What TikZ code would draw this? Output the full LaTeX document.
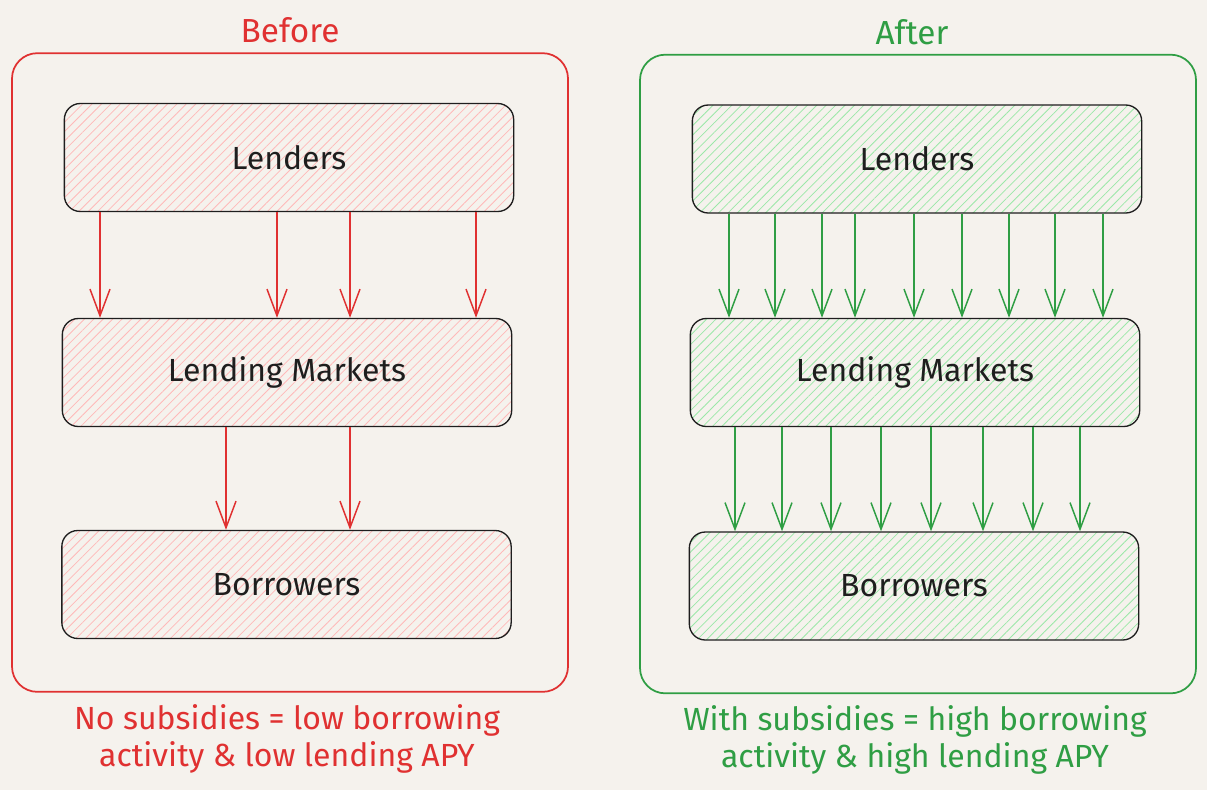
\documentclass[tikz,border=0pt]{standalone}
\usepackage{fontspec}
\setmainfont{Fira Sans}
\usetikzlibrary{arrows.meta,patterns.meta}
\definecolor{bgpaper}{RGB}{245,242,237}
\definecolor{redink}{RGB}{224,49,49}
\definecolor{greenink}{RGB}{47,158,68}
\definecolor{redfill}{RGB}{255,185,185}
\definecolor{greenfill}{RGB}{155,232,168}
\definecolor{boxline}{RGB}{30,30,30}
\tikzset{
  stagebox/.style={draw=boxline,line width=1pt,rounded corners=12pt,minimum width=337pt,minimum height=81pt,font=\fontsize{24}{28}\selectfont,text=boxline},
  redbox/.style={stagebox,pattern={Lines[angle=45,distance=5pt,line width=0.6pt]},pattern color=redfill},
  greenbox/.style={stagebox,pattern={Lines[angle=45,distance=5pt,line width=0.6pt]},pattern color=greenfill},
  outerframe/.style={line width=1.3pt,rounded corners=19pt,minimum width=417pt,minimum height=479pt},
  caption/.style={align=center,font=\fontsize{24}{28}\selectfont},
  heading/.style={font=\fontsize{25}{30}\selectfont},
  redarr/.style={-{Straight Barb[length=20pt,width=15pt]},line width=1.1pt,draw=redink},
  greenarr/.style={-{Straight Barb[length=20pt,width=15pt]},line width=1.1pt,draw=greenink}
}

\begin{document}
\begin{tikzpicture}[x=0.75pt,y=-0.75pt]
\fill[bgpaper] (0,0) rectangle (1207,790);
\useasboundingbox (0,0) rectangle (1207,790);

% before
\node[outerframe,draw=redink] (frameA) at (290,372.5) {};
\node[heading,text=redink] (titleA) at (290,30) {Before};
\node[redbox] (lendA) at (289,157.5) {Lenders};
\node[redbox] (mktA) at (287,372.5) {Lending Markets};
\node[redbox] (borrA) at (286.5,584.5) {Borrowers};
\node[caption,text=redink] (noteA) at (287,739) {No subsidies = low borrowing\\activity \& low lending APY};
\foreach \x in {100,277,350,476}
  \draw[redarr] (lendA.south -| \x,0) -- (mktA.north -| \x,0);
\foreach \x in {226,350}
  \draw[redarr] (mktA.south -| \x,0) -- (borrA.north -| \x,0);

% after
\node[outerframe,draw=greenink] (frameB) at (918,374) {};
\node[heading,text=greenink] (titleB) at (912,32) {After};
\node[greenbox] (lendB) at (917,159) {Lenders};
\node[greenbox] (mktB) at (915,372.5) {Lending Markets};
\node[greenbox] (borrB) at (914,586) {Borrowers};
\node[caption,text=greenink] (noteB) at (915,740) {With subsidies = high borrowing\\activity \& high lending APY};
\foreach \x in {729,775,822,855,914,962,1009,1055,1103}
  \draw[greenarr] (lendB.south -| \x,0) -- (mktB.north -| \x,0);
\foreach \x in {735,782,831,881,931,983,1033,1080}
  \draw[greenarr] (mktB.south -| \x,0) -- (borrB.north -| \x,0);
\end{tikzpicture}
\end{document}
